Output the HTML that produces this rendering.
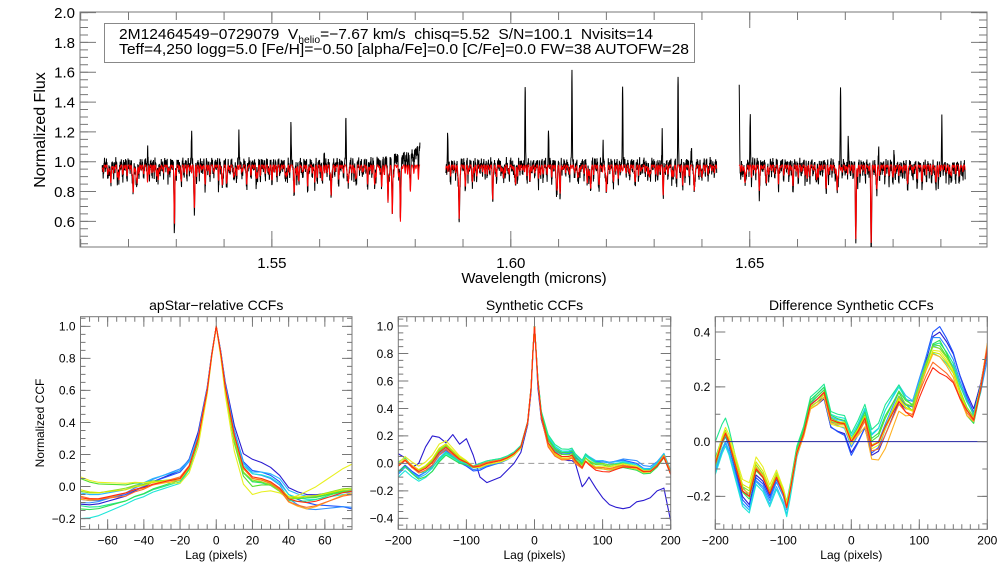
<!DOCTYPE html>
<html><head><meta charset="utf-8"><style>
html,body{margin:0;padding:0;background:#fff;}
svg{display:block;font-family:"Liberation Sans",sans-serif;}
</style></head><body>
<svg id="chart" width="1008" height="576" viewBox="0 0 1008 576" xmlns="http://www.w3.org/2000/svg">
<rect x="0" y="0" width="1008" height="576" fill="#fff"/>
<g id="top"></g>
<g id="p1"></g>
<g id="p2"></g>
<g id="p3"></g>
</svg>
<script>
// ---------- Spectrum data ----------
const segStart = [1.5145, 1.5864, 1.6478];
const segEnd = [1.5810, 1.6431, 1.6951];
const absWave = [1.5163,1.5180,1.5210,1.5218,1.5240,1.5262,1.5296,1.5310,1.5338,1.5360,1.5396,1.5405,1.5420,1.5447,1.5470,1.5500,1.5530,1.5547,1.5556,1.5575,1.5590,1.5605,1.5624,1.5660,1.5675,1.5700,1.5715,1.5730,1.5743,1.5752,1.5769,1.5790,1.5892,1.5905,1.5920,1.5962,1.5985,1.6010,1.6040,1.6062,1.6097,1.6103,1.6140,1.6160,1.6167,1.6185,1.6200,1.6215,1.6260,1.6290,1.6319,1.6340,1.6360,1.6384,1.6400,1.6490,1.6520,1.6535,1.6560,1.6590,1.6620,1.6640,1.6660,1.6683,1.6722,1.6754,1.6766,1.6800,1.6830,1.6860,1.6890,1.6920];
const absDepth = [0.12,0.10,0.18,0.12,0.08,0.10,0.34,0.08,0.27,0.08,0.13,0.10,0.08,0.08,0.08,0.06,0.08,0.16,0.10,0.08,0.08,0.08,0.20,0.12,0.08,0.08,0.10,0.13,0.25,0.33,0.38,0.14,0.36,0.10,0.10,0.18,0.08,0.13,0.08,0.06,0.16,0.15,0.08,0.12,0.15,0.10,0.18,0.08,0.08,0.08,0.17,0.08,0.12,0.17,0.06,0.12,0.10,0.12,0.06,0.10,0.08,0.10,0.12,0.17,0.45,0.48,0.15,0.06,0.08,0.06,0.10,0.06];
const spikeWave = [1.5240,1.5332,1.5431,1.5540,1.5655,1.5610,1.5868,1.6030,1.6079,1.6128,1.6193,1.6234,1.6317,1.6350,1.6378,1.6478,1.6501,1.6690,1.6706,1.6722,1.6770,1.6802,1.6902];
const spikeHeight = [0.25,0.31,0.25,0.26,0.32,0.12,0.28,0.57,0.24,0.67,0.145,0.60,0.25,0.61,0.10,0.54,0.34,0.59,0.22,0.05,0.14,0.10,0.32];
const weakDepth = [0.03,0.06,0.02,0.08,0.04,0.05,0.02,0.07,0.03,0.09,0.04,0.02,0.06,0.05,0.03,0.08,0.02,0.04,0.07,0.03,0.05,0.10,0.02,0.06,0.04,0.03,0.07,0.02,0.05,0.08,0.03,0.04,0.06,0.02,0.09,0.05,0.03];
const noise = [0.6,-0.9,0.2,1.4,-0.3,-1.6,0.8,0.1,-0.7,1.1,-1.2,0.4,1.7,-0.5,-0.1,0.9,-1.8,0.3,1.2,-0.8,0.5,-0.4,1.5,-1.1,0.0,0.7,-1.4,1.0,-0.6,0.3,1.9,-1.0,-0.2,0.6,-1.5,1.3,-0.3,0.2,-0.9,0.8,1.6];
const contDrift = [[1.5145,0.99],[1.5700,0.99],[1.5760,1.03],[1.5790,1.04],[1.5810,1.10],[1.5864,0.97],[1.5900,0.99],[1.6431,0.99],[1.6478,0.97],[1.6500,0.99],[1.6951,0.97]];
const xTickVals = [1.55,1.60,1.65];
const yTickVals = [0.6,0.8,1.0,1.2,1.4,1.6,1.8,2.0];

// ---------- CCF data ----------
const visitColors = ['#2a1ad0','#1f55ff','#2f8fff','#2ab8ff','#1ee6d8','#20e890','#30e050','#55e030','#8ee020','#e8f020','#d8e800','#ffb020','#ff7028','#ff2a10'];
const lag1 = [-75,-70,-65,-60,-55,-50,-45,-40,-35,-30,-25,-20,-15,-10,-5,-2.5,0,2.5,5,10,15,20,25,30,35,40,45,50,55,60,65,70,75];
const mean1 = [-0.06,-0.07,-0.07,-0.06,-0.05,-0.04,-0.02,-0.01,0.01,0.02,0.03,0.04,0.12,0.30,0.60,0.82,1.0,0.83,0.62,0.32,0.12,0.06,0.05,0.03,-0.01,-0.07,-0.08,-0.08,-0.08,-0.07,-0.06,-0.05,-0.05];
const knots1 = [-75,-50,-20,-10,0,10,20,35,50,75];
const dev1 = [
[-0.05,-0.02,0.06,0.04,0,0.06,0.11,0.08,0.03,0.02],
[-0.02,-0.01,0.05,0.02,0,0.03,0.04,0.04,-0.02,-0.09],
[-0.04,0,0.07,0.02,0,0.03,0.02,0.02,-0.06,-0.08],
[0.02,0.02,0.06,0.01,0,0.02,0.03,0.06,0.02,0.01],
[-0.14,-0.07,-0.02,-0.01,0,0,0.02,0.03,0,0],
[-0.06,-0.05,-0.01,-0.02,0,-0.03,-0.03,-0.02,-0.01,0.03],
[-0.08,-0.05,0,-0.02,0,-0.04,-0.03,-0.01,0.01,0.03],
[0.11,0.05,0,-0.02,0,-0.05,-0.06,0,0.01,0.02],
[0.03,0.03,0.01,-0.01,0,-0.04,-0.02,-0.02,0.02,0.04],
[0.12,0.06,-0.02,-0.05,0,-0.10,-0.11,-0.03,0.05,0.19],
[0.04,0.02,0.01,0,0,-0.01,-0.01,0,0.02,0.03],
[-0.02,0,0,0,0,0,-0.01,-0.01,-0.06,0.01],
[0,-0.02,0.02,0,0,0,-0.01,-0.01,-0.05,0],
[-0.01,0,0.01,0,0,0,0,0,-0.02,0.02]];

const lag2 = [-200,-190,-180,-170,-160,-150,-140,-130,-120,-110,-100,-90,-80,-70,-60,-50,-40,-30,-20,-10,-5,-2.5,0,2.5,5,10,20,30,40,50,55,60,70,75,80,90,100,110,120,130,140,150,160,170,180,190,200];
const mean2 = [-0.02,0.02,-0.03,-0.07,-0.05,-0.01,0.06,0.10,0.06,0.02,0.0,-0.03,-0.02,0.0,0.01,0.02,0.04,0.07,0.12,0.30,0.55,0.80,1.0,0.80,0.60,0.35,0.15,0.08,0.05,0.05,0.06,0.02,-0.02,0.03,0.01,-0.02,-0.02,-0.03,-0.02,-0.01,-0.02,-0.03,-0.06,-0.06,-0.02,0.045,-0.08];
const blue2 = [0.07,0.04,-0.03,0.0,0.12,0.20,0.19,0.15,0.21,0.14,0.18,0.06,-0.10,-0.14,-0.12,-0.10,-0.05,0.0,0.08,0.28,0.52,0.78,1.0,0.78,0.55,0.32,0.14,0.06,0.03,0.02,0.02,0.0,-0.17,-0.14,-0.10,-0.18,-0.25,-0.30,-0.32,-0.33,-0.32,-0.28,-0.27,-0.25,-0.20,-0.18,-0.42];
const knots2 = [-200,-140,-80,-20,0,20,60,100,150,200];
const dev2 = [
[0,0,0,0,0,0,0,0,0,0],
[-0.04,0.00,-0.03,0.00,0,0.02,0.02,0.04,0.03,0.00],
[-0.06,0.01,-0.02,-0.01,0,0.00,0.03,0.03,0.05,0.02],
[-0.05,-0.02,0.01,0.00,0,0.04,0.04,0.04,0.02,0.03],
[-0.08,-0.04,0.02,0.01,0,0.05,0.03,0.02,0.02,0.00],
[0.03,-0.03,0.02,0.01,0,0.06,0.05,0.02,0.01,0.02],
[-0.04,-0.05,0.01,0.00,0,0.03,0.03,-0.02,-0.02,0.00],
[0.00,0.03,0.00,0.00,0,0.02,0.01,0.01,-0.01,0.02],
[0.00,0.04,-0.01,-0.01,0,0.00,0.00,0.02,0.00,0.01],
[0.02,0.08,-0.01,-0.01,0,-0.02,-0.02,0.00,0.01,0.00],
[0.00,0.05,0.00,0.00,0,-0.01,-0.01,-0.01,-0.01,0.01],
[0.01,0.02,0.00,0.00,0,-0.02,-0.01,-0.02,-0.01,0.02],
[0.00,0.00,0.01,0.00,0,-0.03,-0.02,-0.01,0.00,0.01],
[0.00,0.02,0.00,0.00,0,0.00,0.00,-0.04,0.00,0.00]];

const lag3 = [-200,-190,-185,-180,-170,-160,-150,-140,-130,-120,-110,-100,-95,-90,-80,-70,-60,-50,-40,-30,-20,-10,0,10,20,30,40,50,60,70,80,90,100,110,120,130,140,150,160,170,180,190,200];
const mean3 = [-0.08,0.0,0.03,0.0,-0.09,-0.18,-0.20,-0.10,-0.13,-0.19,-0.13,-0.19,-0.24,-0.18,-0.04,0.03,0.135,0.155,0.18,0.08,0.07,0.065,0.0,0.04,0.09,-0.01,0.005,0.065,0.115,0.165,0.13,0.115,0.19,0.25,0.30,0.28,0.26,0.23,0.165,0.115,0.08,0.19,0.34];
const knots3 = [-200,-150,-100,-50,0,50,100,130,170,200];
const dev3 = [
[0.02,-0.03,0.01,-0.02,-0.04,-0.04,0.01,0.12,0.06,0.0],
[0.00,-0.04,0.00,-0.01,-0.05,-0.02,0.02,0.14,0.05,-0.02],
[-0.03,-0.05,-0.01,0.00,-0.02,0.00,0.04,0.10,0.04,-0.04],
[-0.02,-0.05,-0.03,0.01,0.01,0.05,0.03,0.06,0.03,0.0],
[-0.04,-0.06,-0.04,0.02,0.02,0.05,0.01,0.03,0.01,0.0],
[0.08,0.00,0.02,0.03,0.03,0.07,0.00,0.08,0.03,0.0],
[0.02,-0.01,0.01,0.02,0.01,0.03,-0.01,0.09,-0.02,0.0],
[-0.01,0.00,0.00,0.01,0.00,0.02,0.02,0.07,0.00,0.0],
[0.00,0.02,0.00,-0.01,0.00,-0.01,0.02,0.06,0.01,0.01],
[0.01,0.05,0.02,-0.02,-0.01,-0.02,0.00,0.05,0.00,0.01],
[0.00,0.03,0.01,-0.01,0.01,-0.01,0.00,0.04,0.00,0.01],
[0.00,0.01,0.00,-0.02,0.00,-0.09,0.00,0.03,-0.02,0.02],
[0.00,0.00,0.00,0.00,0.00,-0.04,-0.01,-0.01,-0.01,0.01],
[0.00,0.00,0.00,0.00,0.00,-0.01,-0.03,-0.03,0.00,0.0]];

// ---------- helpers ----------
const NS='http://www.w3.org/2000/svg';
function mk(parent,tag,attrs,text){const e=document.createElementNS(NS,tag);for(const k in attrs)e.setAttribute(k,attrs[k]);if(text!==undefined)e.textContent=text;parent.appendChild(e);return e;}
function fmt(v,d){let s=v.toFixed(d);return s.replace('-','\u2212');}
function interp(xs,ys,x){if(x<=xs[0])return ys[0];for(let i=1;i<xs.length;i++){if(x<=xs[i]){const t=(x-xs[i-1])/(xs[i]-xs[i-1]);return ys[i-1]+t*(ys[i]-ys[i-1]);}}return ys[ys.length-1];}
const axisColor='#777';

function drawAxes(g,L,R,T,B,sx,sy,xmaj,xmin,ymaj,ymin,fs,xd,yd,xlen,ylen,xlabOff){
  const box=mk(g,'rect',{x:L,y:T,width:R-L,height:B-T,fill:'none',stroke:axisColor,'stroke-width':1});
  
  
  xmin.forEach(v=>{const x=sx(v);const t=mk(g,'path',{d:`M${x},${B}v${-xlen/2}M${x},${T}v${xlen/2}`,stroke:axisColor,'stroke-width':1});
    });
  ymin.forEach(v=>{const y=sy(v);const t=mk(g,'path',{d:`M${L},${y}h${ylen/2}M${R},${y}h${-ylen/2}`,stroke:axisColor,'stroke-width':1});
    });
  xmaj.forEach(v=>{const x=sx(v);const t=mk(g,'path',{d:`M${x},${B}v${-xlen}M${x},${T}v${xlen}`,stroke:axisColor,'stroke-width':1});
    
    const lb=mk(g,'text',{x:x,y:B+fs+xlabOff,'font-size':fs,'text-anchor':'middle',fill:'#000'},fmt(v,xd));
    });
  ymaj.forEach(v=>{const y=sy(v);const t=mk(g,'path',{d:`M${L},${y}h${ylen}M${R},${y}h${-ylen}`,stroke:axisColor,'stroke-width':1});
    
    const lb=mk(g,'text',{x:L-5,y:y+fs*0.36,'font-size':fs,'text-anchor':'end',fill:'#000'},fmt(v,yd));
    });
}
function range(a,b,s){const r=[];for(let v=a;v<=b+1e-9;v+=s)r.push(+v.toFixed(6));return r;}

// ---------- top spectrum ----------
(function(){
  const g=document.getElementById('top');
  const L=80,R=987,T=12,B=247, x0=1.50985,x1=1.69965,y0=0.428,y1=2.004;
  const sx=v=>L+(v-x0)/(x1-x0)*(R-L), sy=v=>B-(v-y0)/(y1-y0)*(B-T);
  drawAxes(g,L,R,T,B,sx,sy,xTickVals,range(1.51,1.69,0.01),yTickVals,range(0.45,2.0,0.05),15,2,1,16,16,6);
  const lx=mk(g,'text',{x:534,y:283,'font-size':15,'text-anchor':'middle'},'Wavelength (microns)');
  
  const ly=mk(g,'text',{x:45,y:130,'font-size':16,'text-anchor':'middle',transform:'rotate(-90 45 130)'},'Normalized Flux');
  
  const clip=mk(g,'clipPath',{id:'ctop'});mk(clip,'rect',{x:L,y:T,width:R-L,height:B-T});
  const sig=0.00009, step=0.00004;
  const wl=[];for(let k=0;k<weakDepth.length*16;k++){wl.push(1.5145+k*0.00034+0.0001*noise[k%noise.length]);}
  segStart.forEach((s,si)=>{
    const e=segEnd[si];const pb=[],pr=[];let n=0;
    for(let w=s;w<=e;w+=step,n++){
      let a=0,ab=0;
      for(let i=0;i<absWave.length;i++){const d=(w-absWave[i])/sig;if(Math.abs(d)<5){const gg=Math.exp(-0.5*d*d);a+=absDepth[i]*gg;ab+=absDepth[i]*1.1*gg;}}
      for(let i=0;i<wl.length;i++){const d=(w-wl[i])/(sig*0.8);if(Math.abs(d)<5){const gg=Math.exp(-0.5*d*d);const dd=weakDepth[i%weakDepth.length];a+=dd*0.8*gg;ab+=dd*1.3*gg;}}
      let sp=0;for(let i=0;i<spikeWave.length;i++){const d=(w-spikeWave[i])/(sig*0.7);if(Math.abs(d)<5)sp+=spikeHeight[i]*Math.exp(-0.5*d*d);}
      const c=interp(contDrift.map(p=>p[0]),contDrift.map(p=>p[1]),w);
      const red=0.978-a;
      const blk=c-ab+0.022*noise[n%noise.length]+sp;
      pr.push(sx(w).toFixed(2)+','+sy(red).toFixed(2));
      pb.push(sx(w).toFixed(2)+','+sy(blk).toFixed(2));
    }
    const b=mk(g,'polyline',{points:pb.join(' '),fill:'none',stroke:'#000','stroke-width':1,'clip-path':'url(#ctop)'});
    
    const r=mk(g,'polyline',{points:pr.join(' '),fill:'none',stroke:'#f00','stroke-width':1,'clip-path':'url(#ctop)'});
    
  });
  const box=mk(g,'rect',{x:104.5,y:23.5,width:590,height:39,fill:'#fff',stroke:'#888','stroke-width':1});
  
  const t1=mk(g,'text',{x:119,y:39,'font-size':15,textLength:534,lengthAdjust:'spacingAndGlyphs'});
  
  t1.innerHTML='2M12464549\u22120729079  V<tspan font-size="10" dy="4">helio</tspan><tspan dy="-4">=\u22127.67 km/s  chisq=5.52  S/N=100.1  Nvisits=14</tspan>';
  t1.setAttribute('xml:space','preserve');t1.style.whiteSpace='pre';
  const t2=mk(g,'text',{x:119,y:54,'font-size':15,textLength:570,lengthAdjust:'spacingAndGlyphs'},'Teff=4,250 logg=5.0 [Fe/H]=\u22120.50 [alpha/Fe]=0.0 [C/Fe]=0.0 FW=38 AUTOFW=28');
  
})();

// ---------- CCF panels ----------
function ccfPanel(id,L,R,xr,yr,xmaj,xminStep,ymaj,yminStep,title,lag,mean,knots,dev,special,zeroStyle,ylabel){
  const g=document.getElementById(id);
  const T=316.7,B=529.3;
  const sx=v=>L+(v-xr[0])/(xr[1]-xr[0])*(R-L), sy=v=>B-(v-yr[0])/(yr[1]-yr[0])*(B-T);
  const clip=mk(g,'clipPath',{id:'c'+id});mk(clip,'rect',{x:L,y:T,width:R-L,height:B-T});
  if(zeroStyle==='dash'){const z=mk(g,'line',{x1:L,x2:R,y1:sy(0),y2:sy(0),stroke:'#999','stroke-dasharray':'6,4','stroke-width':1});
    }
  for(let v=0;v<dev.length;v++){
    let vals;
    if(special&&v===0)vals=special;else vals=lag.map((l,i)=>mean[i]+interp(knots,dev[v],l));
    const pts=lag.map((l,i)=>sx(l).toFixed(2)+','+sy(vals[i]).toFixed(2)).join(' ');
    const pl=mk(g,'polyline',{points:pts,fill:'none',stroke:visitColors[v],'stroke-width':1.1,'stroke-linejoin':'round','clip-path':'url(#c'+id+')'});
    
  }
  if(zeroStyle==='solid'){const z=mk(g,'line',{x1:L,x2:R,y1:sy(0),y2:sy(0),stroke:'#2020a0','stroke-width':1});
    }
  drawAxes(g,L,R,T,B,sx,sy,xmaj,range(xr[0]-(xr[0]%xminStep),xr[1],xminStep).filter(v=>v>=xr[0]&&v<=xr[1]),ymaj,range(Math.ceil(yr[0]/yminStep)*yminStep,yr[1],yminStep),12,0,1,10,10,3);
  const tt=mk(g,'text',{x:(L+R)/2,y:310,'font-size':14,'text-anchor':'middle'},title);
  
  const lx=mk(g,'text',{x:(L+R)/2,y:559,'font-size':12,'text-anchor':'middle'},'Lag (pixels)');
  
  if(ylabel){const ly=mk(g,'text',{x:44,y:423,'font-size':12,'text-anchor':'middle',transform:'rotate(-90 44 423)'},ylabel);
    }
}
ccfPanel('p1',80.5,352,[-75,75],[-0.267,1.06],[-60,-40,-20,0,20,40,60],5,[-0.2,0,0.2,0.4,0.6,0.8,1.0],0.05,'apStar\u2212relative CCFs',lag1,mean1,knots1,dev1,null,'none','Normalized CCF');
ccfPanel('p2',398.3,670.7,[-200,200],[-0.48,1.068],[-200,-100,0,100,200],12.5,[-0.4,-0.2,0,0.2,0.4,0.6,0.8,1.0],0.05,'Synthetic CCFs',lag2,mean2,knots2,dev2,blue2,'dash',null);
ccfPanel('p3',715.3,987.3,[-200,200],[-0.32,0.456],[-200,-100,0,100,200],12.5,[-0.2,0,0.2,0.4],0.1,'Difference Synthetic CCFs',lag3,mean3,knots3,dev3,null,'solid',null);
</script>
</body></html>
